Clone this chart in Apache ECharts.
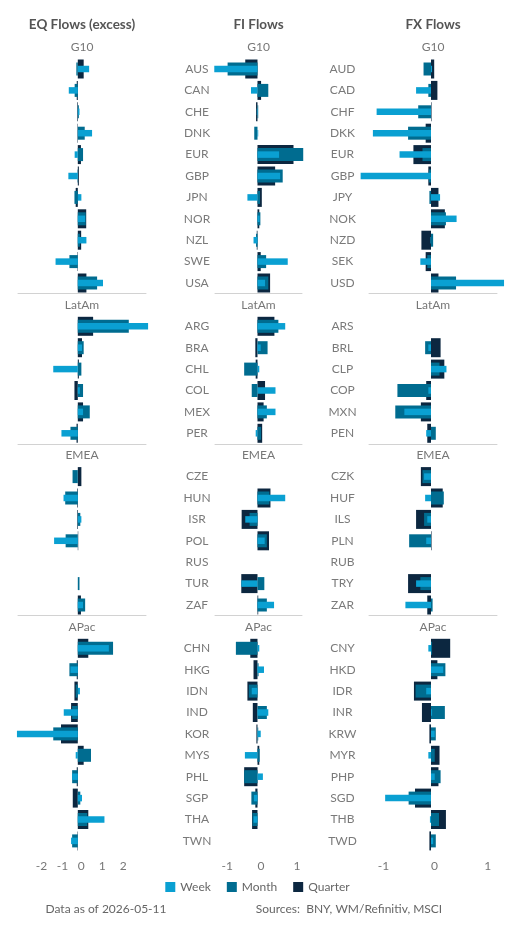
<!DOCTYPE html>
<html><head><meta charset="utf-8">
<script src="https://cdn.jsdelivr.net/npm/echarts@6/dist/echarts.min.js"></script>
<style>html,body{margin:0;padding:0;background:#fff}#c{width:515px;height:927px}</style>
</head><body><div id="c"></div>
<script>
// ---------- categories ----------
const catsG10 = ['AUS','CAN','CHE','DNK','EUR','GBP','JPN','NOR','NZL','SWE','USA'];
const catsLatAm = ['ARG','BRA','CHL','COL','MEX','PER'];
const catsEMEA = ['CZE','HUN','ISR','POL','RUS','TUR','ZAF'];
const catsAPac = ['CHN','HKG','IDN','IND','KOR','MYS','PHL','SGP','THA','TWN'];
const fxG10 = ['AUD','CAD','CHF','DKK','EUR','GBP','JPY','NOK','NZD','SEK','USD'];
const fxLatAm = ['ARS','BRL','CLP','COP','MXN','PEN'];
const fxEMEA = ['CZK','HUF','ILS','PLN','RUB','TRY','ZAR'];
const fxAPac = ['CNY','HKD','IDR','INR','KRW','MYR','PHP','SGD','THB','TWD'];
const groupNames = ['G10','LatAm','EMEA','APac'];
const columnTitles = ['EQ Flows (excess)','FI Flows','FX Flows'];
const eqTicks = [-2,-1,0,1,2];
const fiTicks = [-1,0,1];
const fxTicks = [-1,0,1];

// ---------- EQ flows ----------
const eqG10Week    = [0.54,-0.43,0.08,0.68,-0.15,-0.45,0.17,0.35,0.41,-1.06,1.2];
const eqG10Month   = [-0.07,-0.15,0.05,0.33,0.25,-0.02,-0.16,0.38,0.1,-0.4,0.92];
const eqG10Quarter = [0.28,-0.05,-0.03,-0.02,0.15,0.05,-0.1,0.4,0.16,-0.02,0.41];
const eqLatAmWeek    = [3.35,0.2,-1.17,0.1,0.25,-0.78];
const eqLatAmMonth   = [2.43,0.28,0.17,0.25,0.57,-0.35];
const eqLatAmQuarter = [0.73,0.2,0.05,-0.16,0.25,-0.06];
const eqEMEAWeek    = [0,-0.68,0.17,-1.13,null,null,0.25];
const eqEMEAMonth   = [-0.25,-0.6,0.12,-0.58,null,0.08,0.35];
const eqEMEAQuarter = [0.17,-0.03,-0.03,0.02,null,null,0.15];
const eqAPacWeek    = [1.48,-0.35,0.1,-0.67,-2.9,-0.1,-0.27,0.2,1.27,-0.32];
const eqAPacMonth   = [1.68,-0.4,-0.1,-0.27,-1.17,0.63,-0.27,0.12,0.45,-0.27];
const eqAPacQuarter = [0.5,-0.05,-0.16,-0.32,-0.8,0.28,-0.05,-0.24,0.5,-0.02];

// ---------- FI flows ----------
const fiG10Week    = [-1.2,-0.18,-0.02,0.02,0.6,0.63,-0.28,0.06,-0.11,0.84,0.21];
const fiG10Month   = [-0.83,0.3,0.02,-0.09,1.27,0.7,0.07,0.08,-0.04,0.24,0.3];
const fiG10Quarter = [-0.34,0.1,-0.04,0,1.0,0.49,0.12,0.05,-0.02,0.09,0.35];
const fiLatAmWeek    = [0.77,0.09,0.05,0.5,0.5,-0.05];
const fiLatAmMonth   = [0.58,0.28,-0.37,-0.16,0.26,0.1];
const fiLatAmQuarter = [0.47,-0.06,-0.05,0.21,0.17,0.13];
const fiEMEAWeek    = [null,0.77,-0.34,0.2,null,-0.45,0.46];
const fiEMEAMonth   = [null,0.33,-0.22,0.26,null,0.19,0.26];
const fiEMEAQuarter = [null,0.36,-0.44,0.32,null,-0.45,0.02];
const fiAPacWeek    = [0.05,0.18,-0.16,0.3,0.09,-0.35,0.15,-0.1,-0.11,null];
const fiAPacMonth   = [-0.6,0.03,-0.24,0.26,0.02,0.06,-0.37,-0.17,-0.14,null];
const fiAPacQuarter = [-0.2,-0.11,-0.28,-0.13,-0.03,0.05,-0.37,-0.06,-0.15,null];

// ---------- FX flows ----------
const fxG10Week    = [0.02,-0.28,-1.02,-1.09,-0.59,-1.32,0.17,0.48,-0.01,-0.2,1.37];
const fxG10Month   = [-0.14,-0.05,-0.24,-0.43,-0.16,-0.04,-0.03,0.28,0.04,-0.07,0.47];
const fxG10Quarter = [0.06,0.12,0.01,-0.1,-0.33,-0.05,0.14,0.26,-0.18,-0.1,0.14];
const fxLatAmWeek    = [null,-0.05,0.29,-0.05,-0.5,-0.09];
const fxLatAmMonth   = [null,-0.11,0.16,-0.63,-0.67,0.09];
const fxLatAmQuarter = [null,0.18,0.25,-0.09,-0.19,-0.07];
const fxEMEAWeek    = [-0.13,-0.11,-0.07,-0.09,null,-0.28,-0.48];
const fxEMEAMonth   = [-0.16,0.24,-0.13,-0.41,null,-0.2,0.03];
const fxEMEAQuarter = [-0.19,0.22,-0.28,0.01,null,-0.43,-0.07];
const fxAPacWeek    = [-0.05,0.23,-0.09,0.02,0.07,-0.05,0.07,-0.86,-0.02,0.04];
const fxAPacMonth   = [0.02,0.27,-0.29,0.26,0.09,0.07,0.18,-0.42,0.15,0.09];
const fxAPacQuarter = [0.36,0.12,-0.32,-0.17,-0.03,0.16,0.14,-0.3,0.28,-0.03];

// ---------- assemble ----------
const FONT = 'Lato';
const colors = {Week:'#0aa0d2', Month:'#006c90', Quarter:'#0c2740'};
const barWidths = {Quarter:19, Month:13, Week:6.5};
const seriesOrder = ['Quarter','Month','Week'];

const columns = [
  {left:18, width:128, min:-2.85, max:3.25, ticks:eqTicks, showCats:false, margin:0,
   cats:[catsG10,catsLatAm,catsEMEA,catsAPac],
   data:[{Week:eqG10Week,Month:eqG10Month,Quarter:eqG10Quarter},
         {Week:eqLatAmWeek,Month:eqLatAmMonth,Quarter:eqLatAmQuarter},
         {Week:eqEMEAWeek,Month:eqEMEAMonth,Quarter:eqEMEAQuarter},
         {Week:eqAPacWeek,Month:eqAPacMonth,Quarter:eqAPacQuarter}]},
  {left:215, width:87, min:-1.18, max:1.236, ticks:fiTicks, showCats:true, margin:18,
   cats:[catsG10,catsLatAm,catsEMEA,catsAPac],
   data:[{Week:fiG10Week,Month:fiG10Month,Quarter:fiG10Quarter},
         {Week:fiLatAmWeek,Month:fiLatAmMonth,Quarter:fiLatAmQuarter},
         {Week:fiEMEAWeek,Month:fiEMEAMonth,Quarter:fiEMEAQuarter},
         {Week:fiAPacWeek,Month:fiAPacMonth,Quarter:fiAPacQuarter}]},
  {left:369, width:128, min:-1.163, max:1.238, ticks:fxTicks, showCats:true, margin:26.5,
   cats:[fxG10,fxLatAm,fxEMEA,fxAPac],
   data:[{Week:fxG10Week,Month:fxG10Month,Quarter:fxG10Quarter},
         {Week:fxLatAmWeek,Month:fxLatAmMonth,Quarter:fxLatAmQuarter},
         {Week:fxEMEAWeek,Month:fxEMEAMonth,Quarter:fxEMEAQuarter},
         {Week:fxAPacWeek,Month:fxAPacMonth,Quarter:fxAPacQuarter}]}
];
const band = 21.4;
const groupTops = [58.3, 315.6, 465.9, 637.6];
const headerYs = [46.7, 305.5, 455.5, 627];

const grid = [], xAxis = [], yAxis = [], series = [], graphic = [];
columns.forEach((col, c) => {
  const cx = col.left + col.width / 2;
  graphic.push({type:'text', x:cx, y:25, style:{text:columnTitles[c], fill:'#555', font:'bold 13.5px ' + FONT, textAlign:'center', textVerticalAlign:'middle'}});
  for (let g = 0; g < 4; g++) {
    const gi = c * 4 + g;
    const n = col.cats[g].length;
    grid.push({left:col.left, top:groupTops[g], width:col.width, height:n * band, containLabel:false, outerBoundsMode:'none'});
    graphic.push({type:'text', x:cx, y:headerYs[g], style:{text:groupNames[g], fill:'#777', font:'12px ' + FONT, textAlign:'center', textVerticalAlign:'middle'}});
    xAxis.push({gridIndex:gi, type:'value', min:col.min, max:col.max,
      splitLine:{show:false}, axisTick:{show:false},
      axisLine:{show:g < 3, lineStyle:{color:'#d2d2d2', width:1}},
      axisLabel:{show:g === 3, customValues:col.ticks, align:'left', margin:9, color:'#777', fontSize:12, fontFamily:FONT}
    });
    seriesOrder.forEach((s, si) => {
      yAxis.push({gridIndex:gi, type:'category', data:col.cats[g], inverse:true,
        axisLine:{show:false}, axisTick:{show:false}, splitLine:{show:false},
        axisLabel:{show:col.showCats && si === 0, align:'center', margin:col.margin, color:'#7a7a7a', fontSize:12, fontFamily:FONT}
      });
      series.push({type:'bar', name:s, xAxisIndex:gi, yAxisIndex:gi * 3 + si,
        data:col.data[g][s], barWidth:barWidths[s], clip:false, silent:true, animation:false,
        itemStyle:{color:colors[s]}});
    });
  }
});

graphic.push({type:'text', x:106, y:909, style:{text:'Data as of 2026-05-11', fill:'#666', font:'12px ' + FONT, textAlign:'center', textVerticalAlign:'middle'}});
graphic.push({type:'text', x:349, y:909, style:{text:'Sources:  BNY, WM/Refinitiv, MSCI', fill:'#666', font:'12px ' + FONT, textAlign:'center', textVerticalAlign:'middle'}});

const chart = echarts.init(document.getElementById('c'), null, {renderer:'canvas'});
chart.setOption({
  animation:false,
  color:[colors.Quarter, colors.Month, colors.Week],
  grid, xAxis, yAxis, series, graphic,
  legend:{data:['Week','Month','Quarter'], left:'center', top:876, icon:'rect', itemWidth:10, itemHeight:10, itemGap:16,
    textStyle:{color:'#666', fontSize:12, fontFamily:FONT}, selectedMode:false}
});
</script></body></html>
